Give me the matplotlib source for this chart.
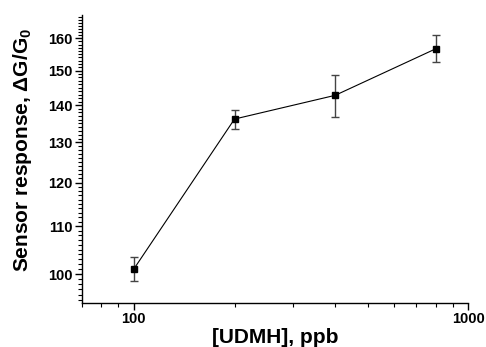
import matplotlib
matplotlib.use("Agg")
import matplotlib.pyplot as plt
from matplotlib.ticker import FixedLocator, NullFormatter
import numpy as np

plt.rcParams.update({
    "font.family": ["Liberation Sans", "DejaVu Sans"],
    "font.weight": "bold",
    "mathtext.fontset": "custom",
    "mathtext.rm": "Liberation Sans:bold",
    "mathtext.it": "Liberation Sans:bold",
    "mathtext.bf": "Liberation Sans:bold",
})

# data
conc_ppb = [100, 200, 400, 800]
response = [101.0, 136.2, 142.8, 156.7]
response_err = [2.4, 2.6, 6.0, 4.2]

y_ticks = [100, 110, 120, 130, 140, 150, 160]
x_ticks = [100, 1000]

fig = plt.figure(figsize=(4.86, 3.47), dpi=100)
ax = fig.add_axes([0.1687, 0.1277, 0.7949, 0.8291])

ax.errorbar(conc_ppb, response, yerr=response_err, color="black",
            ecolor="#444444", elinewidth=1.0, capsize=3, capthick=1.0,
            lw=0.8, marker="s", ms=5, mfc="black", mec="black")

ax.set_xscale("log")
ax.set_yscale("log")
ax.set_xlim(70, 1000)
ax.set_ylim(94.45, 167.6)

ax.xaxis.set_major_locator(FixedLocator(x_ticks))
ax.set_xticklabels([str(t) for t in x_ticks])
ax.xaxis.set_minor_locator(FixedLocator([70, 80, 90] + list(range(200, 1000, 100))))
ax.xaxis.set_minor_formatter(NullFormatter())

ax.yaxis.set_major_locator(FixedLocator(y_ticks))
ax.set_yticklabels([str(t) for t in y_ticks])
ax.yaxis.set_minor_locator(FixedLocator(list(range(95, 168))))
ax.yaxis.set_minor_formatter(NullFormatter())

for side in ["top", "right"]:
    ax.spines[side].set_visible(False)
for side in ["left", "bottom"]:
    ax.spines[side].set_linewidth(1.0)

ax.tick_params(which="major", direction="out", length=5, width=1.0,
               labelsize=10.5, pad=2)
ax.tick_params(which="minor", direction="out", length=3, width=0.8)

ax.set_xlabel("[UDMH], ppb", fontsize=15, fontweight="bold", labelpad=1)
ax.set_ylabel("Sensor response, ΔG/G$_0$", fontsize=15, fontweight="bold",
              labelpad=10)
ax.yaxis.label.set_y(0.53)

fig.savefig("out.png", dpi=100)
